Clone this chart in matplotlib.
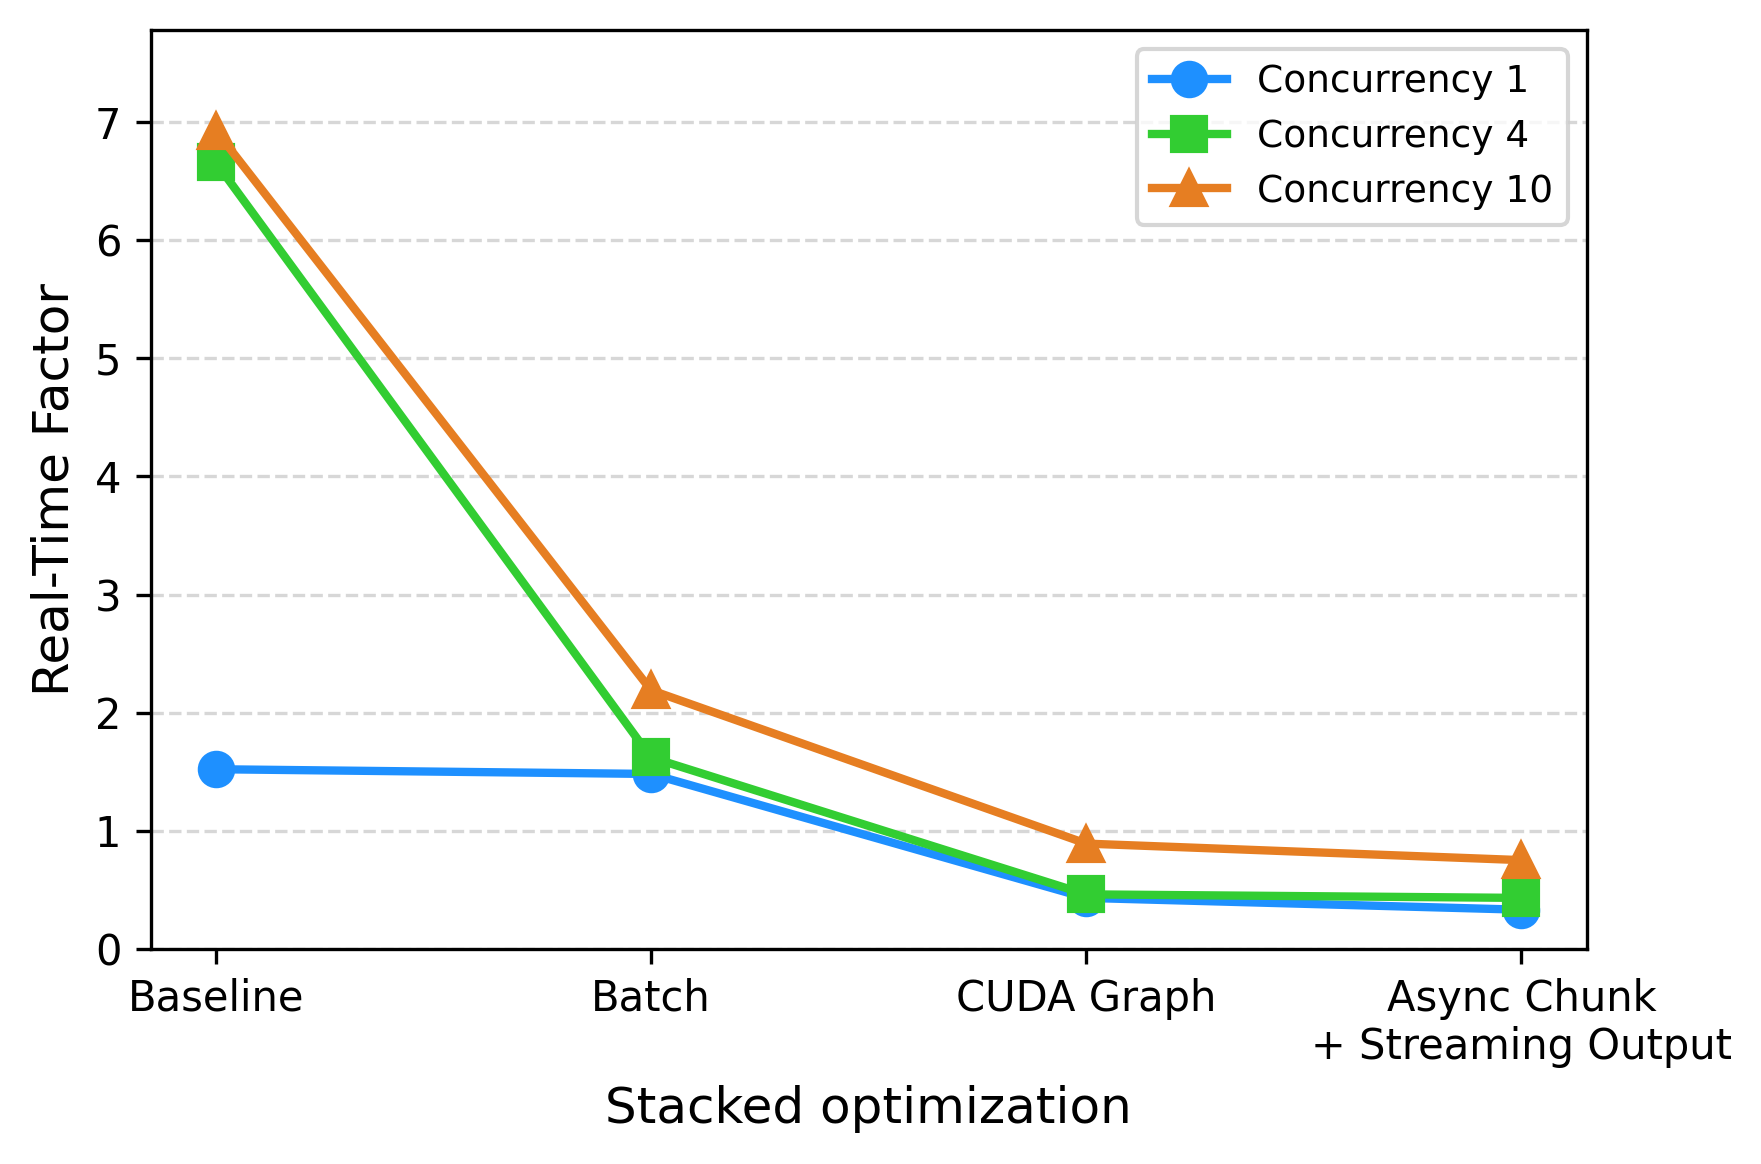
import numpy as np
from matplotlib import pyplot as plt

stages = ["Baseline", "Batch", "CUDA Graph", "Async Chunk\n+ Streaming Output"]
conc1 = [1.52, 1.48, 0.43, 0.33]
conc4 = [6.66, 1.62, 0.46, 0.43]
conc10 = [6.93, 2.19, 0.89, 0.75]

fig, ax = plt.subplots(figsize=(1761/300, 1164/300), dpi=300)
fig.subplots_adjust(left=0.0855, right=0.901, top=0.974, bottom=0.185)

x = np.arange(len(stages))
ax.plot(x, conc1, marker='o', color='#1e90ff', lw=2, ms=8, label='Concurrency 1')
ax.plot(x, conc4, marker='s', color='#32cd32', lw=2, ms=8, label='Concurrency 4')
ax.plot(x, conc10, marker='^', color='#e67e22', lw=2, ms=8, label='Concurrency 10')

ax.set_xticks(x)
ax.set_xticklabels(stages, fontsize=10)
ax.tick_params(axis='y', labelsize=10)
ax.set_ylim(0, 7.78)
ax.set_xlabel("Stacked optimization", fontsize=12)
ax.set_ylabel("Real-Time Factor", fontsize=12)
ax.grid(axis='y', linestyle='--', alpha=0.5)
ax.legend(fontsize=9, loc='upper right')

fig.savefig("out.png", dpi=300)
